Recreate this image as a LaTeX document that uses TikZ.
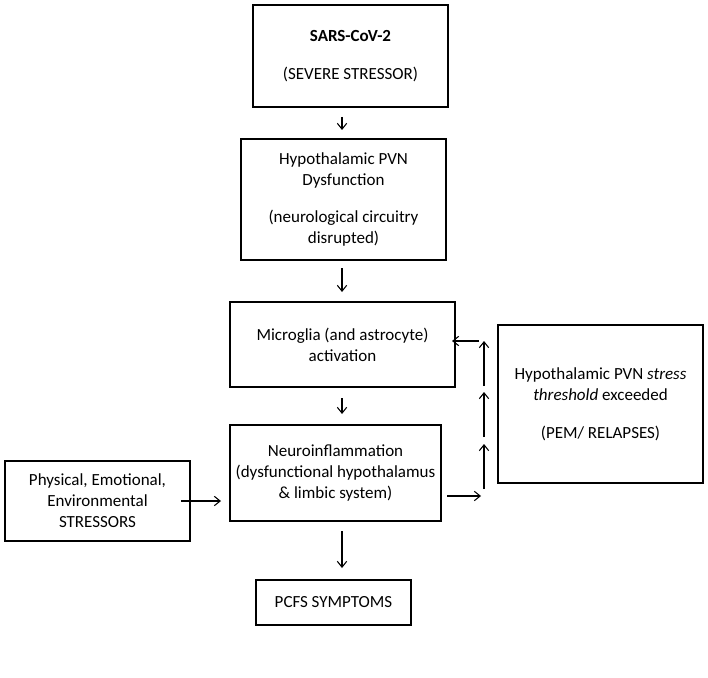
\documentclass[tikz,border=0pt]{standalone}
\usepackage{fontspec}
\setmainfont{Carlito}
\usetikzlibrary{arrows.meta}

\begin{document}
\begin{tikzpicture}[x=0.03cm, y=-0.03cm,
  box/.style = {draw, line width=1.8pt, align=center, inner sep=2pt,
    font=\fontsize{14.5}{18}\selectfont},
  arr/.style = {-{Straight Barb[length=5pt,width=8pt]}, line width=0.9pt}
]
\useasboundingbox (0,0) rectangle (708,677);
% boxes
\node[box, minimum width=195*0.03cm, minimum height=102*0.03cm] (sars) at (350.5,56)
  {\textbf{SARS-CoV-2}\\[14pt](SEVERE STRESSOR)};
\node[box, minimum width=205*0.03cm, minimum height=121*0.03cm] (pvn) at (343.5,199.5)
  {Hypothalamic PVN\\Dysfunction\\[14pt](neurological circuitry\\disrupted)};
\node[box, minimum width=225*0.03cm, minimum height=85*0.03cm] (micro) at (342.5,344.5)
  {Microglia (and astrocyte)\\activation};
\node[box, minimum width=211*0.03cm, minimum height=96*0.03cm] (neuro) at (335.5,473)
  {Neuroinflammation\\(dysfunctional hypothalamus\\\& limbic system)};
\node[box, minimum width=155*0.03cm, minimum height=45*0.03cm] (pcfs) at (333.5,602.5)
  {PCFS SYMPTOMS};
\node[box, minimum width=185*0.03cm, minimum height=80*0.03cm] (phys) at (97.5,501)
  {Physical, Emotional,\\Environmental\\STRESSORS};
\node[box, minimum width=205*0.03cm, minimum height=158*0.03cm] (thr) at (600.5,404)
  {Hypothalamic PVN \textit{stress}\\\textit{threshold} exceeded\\[14pt](PEM/ RELAPSES)};
% arrow ends
\coordinate (a1) at (342,117); \coordinate (a2) at (342,130);
\coordinate (b1) at (342,268); \coordinate (b2) at (342,292);
\coordinate (c1) at (342,398); \coordinate (c2) at (342,414);
\coordinate (d1) at (342,531); \coordinate (d2) at (342,568);
\coordinate (e1) at (181,501); \coordinate (e2) at (221,501);
\coordinate (g1) at (447,496); \coordinate (g2) at (481,496);
\coordinate (f0) at (484,489); \coordinate (f1) at (484,444);
\coordinate (f2) at (484,437); \coordinate (f3) at (484,392);
\coordinate (f4) at (484,386); \coordinate (f5) at (484,341);
\coordinate (h1) at (479,341); \coordinate (h2) at (452,341);
% connectors
\foreach \s/\t in {a1/a2, b1/b2, c1/c2, d1/d2, e1/e2, g1/g2, f0/f1, f2/f3, f4/f5, h1/h2}
  \draw[arr] (\s) -- (\t);
\end{tikzpicture}
\end{document}
